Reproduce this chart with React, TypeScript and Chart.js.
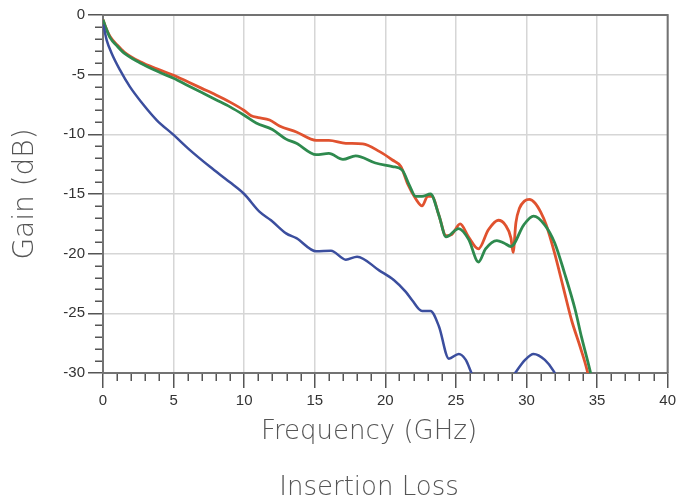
import React, { useEffect, useRef } from "react";
import { Chart, registerables } from "chart.js";

Chart.register(...registerables);

const redFreq = [0, 0.15, 0.5, 1.0, 1.5, 2.6, 4.0, 5.0, 6.0, 7.0, 8.0, 9.0, 10.0, 10.5, 11.0, 11.8, 12.5, 13.7, 15.1, 16.0, 17.2, 18.4, 19.6, 20.5, 21.1, 21.6, 22.15, 22.6, 23.0, 23.3, 23.8, 24.3, 24.7, 25.3, 25.9, 26.6, 27.3, 28.0, 28.5, 28.9, 29.05, 29.25, 29.5, 29.85, 30.2, 30.6, 31.0, 31.4, 32.0, 32.6, 33.2, 33.8, 34.3, 34.6];
const redGain = [-0.4, -0.9, -1.8, -2.5, -3.1, -3.9, -4.6, -5.05, -5.6, -6.15, -6.7, -7.3, -8.0, -8.45, -8.6, -8.8, -9.3, -9.8, -10.5, -10.5, -10.75, -10.8, -11.45, -12.15, -12.7, -14.2, -15.4, -16.0, -15.2, -15.2, -16.8, -18.5, -18.4, -17.5, -18.6, -19.6, -18.0, -17.2, -17.6, -18.7, -19.9, -17.4, -16.2, -15.6, -15.45, -15.75, -16.5, -17.6, -20.0, -22.8, -25.6, -27.8, -29.8, -31.5];

const greenFreq = [0, 0.15, 0.5, 1.0, 1.5, 2.6, 4.0, 5.0, 6.0, 7.0, 8.0, 9.0, 10.0, 10.85, 12.0, 12.97, 13.7, 15.1, 16.0, 17.0, 17.9, 19.3, 20.5, 21.2, 21.7, 22.15, 22.6, 23.2, 23.8, 24.3, 25.2, 25.9, 26.6, 27.1, 27.9, 28.4, 28.9, 29.8, 30.5, 31.3, 32.0, 32.7, 33.45, 33.9, 34.5, 34.8];
const greenGain = [-0.4, -0.9, -1.9, -2.6, -3.2, -4.0, -4.8, -5.3, -5.9, -6.5, -7.1, -7.7, -8.4, -9.05, -9.6, -10.4, -10.75, -11.7, -11.6, -12.1, -11.8, -12.4, -12.7, -13.0, -14.25, -15.2, -15.2, -15.0, -16.8, -18.6, -17.9, -18.8, -20.7, -19.6, -18.9, -19.1, -19.4, -17.6, -16.85, -17.6, -19.1, -21.65, -24.7, -27.0, -29.8, -31.5];

const blueFreq = [0, 0.07, 0.26, 0.61, 1.2, 1.9, 2.85, 3.8, 5.0, 6.14, 7.56, 8.97, 10.0, 11.1, 11.9, 12.97, 13.7, 15.1, 16.15, 17.2, 18.0, 19.56, 20.6, 21.45, 21.9, 22.6, 23.2, 23.8, 24.5, 25.2, 25.7, 26.1, 26.6, 27.5, 28.5, 29.2, 29.9, 30.5, 31.3, 31.9, 32.5];
const blueGain = [-0.8, -1.1, -2.1, -3.2, -4.6, -6.0, -7.5, -8.8, -10.05, -11.3, -12.7, -14.0, -15.0, -16.5, -17.2, -18.3, -18.7, -19.8, -19.75, -20.5, -20.25, -21.4, -22.2, -23.2, -23.9, -24.8, -24.8, -26.1, -28.8, -28.4, -28.9, -30.0, -31.3, -32.0, -31.3, -30.0, -28.9, -28.4, -28.9, -29.8, -31.2];

const xMin = 0;
const xMax = 40;
const yMin = -30;
const yMax = 0;
const xTitle = "Frequency (GHz)";
const yTitle = "Gain (dB)";
const chartTitle = "Insertion Loss";

const toPoints = (fs: number[], gs: number[]) => fs.map((x, i) => ({ x, y: gs[i] }));

const decorPlugin = {
  id: "decor",
  afterDraw(chart: any) {
    const { ctx, chartArea, scales } = chart;
    const xs = scales.x;
    const ys = scales.y;
    ctx.save();
    ctx.strokeStyle = "#555";
    ctx.lineWidth = 1.5;
    ctx.beginPath();
    for (let v = xMin; v <= xMax; v += 1) {
      if (v % 5 === 0) continue;
      const px = Math.round(xs.getPixelForValue(v)) + 0.25;
      ctx.moveTo(px, chartArea.bottom + 1);
      ctx.lineTo(px, chartArea.bottom + 8);
    }
    for (let v = yMin; v <= yMax; v += 1) {
      if (v % 5 === 0) continue;
      const py = Math.round(ys.getPixelForValue(v)) + 0.25;
      ctx.moveTo(chartArea.left - 1, py);
      ctx.lineTo(chartArea.left - 8, py);
    }
    ctx.stroke();
    ctx.strokeStyle = "#737373";
    ctx.lineWidth = 2;
    ctx.beginPath();
    ctx.moveTo(chartArea.left, chartArea.top);
    ctx.lineTo(chartArea.right, chartArea.top);
    ctx.lineTo(chartArea.right, chartArea.bottom);
    ctx.stroke();
    ctx.fillStyle = "#555";
    ctx.textAlign = "center";
    ctx.textBaseline = "middle";
    ctx.font = '200 26px "DejaVu Sans", sans-serif';
    ctx.fillText(xTitle, 369, 432);
    ctx.fillText(chartTitle, 369, 488);
    ctx.save();
    ctx.translate(26, (chartArea.top + chartArea.bottom) / 2);
    ctx.rotate(-Math.PI / 2);
    ctx.font = '200 28px "DejaVu Sans", sans-serif';
    ctx.fillText(yTitle, 0, 0);
    ctx.restore();
    ctx.restore();
  },
};

export default function App() {
  const ref = useRef<HTMLCanvasElement | null>(null);
  useEffect(() => {
    document.body.style.margin = "0";
    if (!ref.current) return;
    const tickFont = { family: '"Liberation Sans", Arial, sans-serif', size: 15 };
    const chart = new Chart(ref.current, {
      type: "line",
      data: {
        datasets: [
          { data: toPoints(blueFreq, blueGain), borderColor: "#3b4e9e", borderWidth: 2.5 },
          { data: toPoints(greenFreq, greenGain), borderColor: "#2e8a4e", borderWidth: 2.8 },
          { data: toPoints(redFreq, redGain), borderColor: "#e0522f", borderWidth: 2.8 },
        ].map((d) => ({ ...d, pointRadius: 0, fill: false, cubicInterpolationMode: "monotone" as const })),
      },
      plugins: [decorPlugin],
      options: {
        animation: false,
        responsive: false,
        devicePixelRatio: 1,
        layout: { padding: { top: 15, right: 10.5, left: 0, bottom: 0 } },
        plugins: { legend: { display: false }, tooltip: { enabled: false }, title: { display: false } },
        scales: {
          x: {
            type: "linear",
            min: xMin,
            max: xMax,
            afterFit: (s: any) => { s.height = 131; },
            ticks: { stepSize: 5, font: tickFont, color: "#333", padding: 4, maxRotation: 0 },
            grid: { color: "#d6d6d6", lineWidth: 1.5, tickColor: "#555", tickLength: 15, tickWidth: 1.5 },
            border: { color: "#737373", width: 2 },
          },
          y: {
            type: "linear",
            min: yMin,
            max: yMax,
            afterFit: (s: any) => { s.width = 103; },
            ticks: { stepSize: 5, font: tickFont, color: "#333", padding: 3 },
            grid: { color: "#d6d6d6", lineWidth: 1.5, tickColor: "#555", tickLength: 15, tickWidth: 1.5 },
            border: { color: "#737373", width: 2 },
          },
        },
      },
    });
    return () => chart.destroy();
  }, []);
  return (
    <div style={{ width: 680, height: 504, position: "relative" }}>
      <canvas ref={ref} width={680} height={504} />
    </div>
  );
}
